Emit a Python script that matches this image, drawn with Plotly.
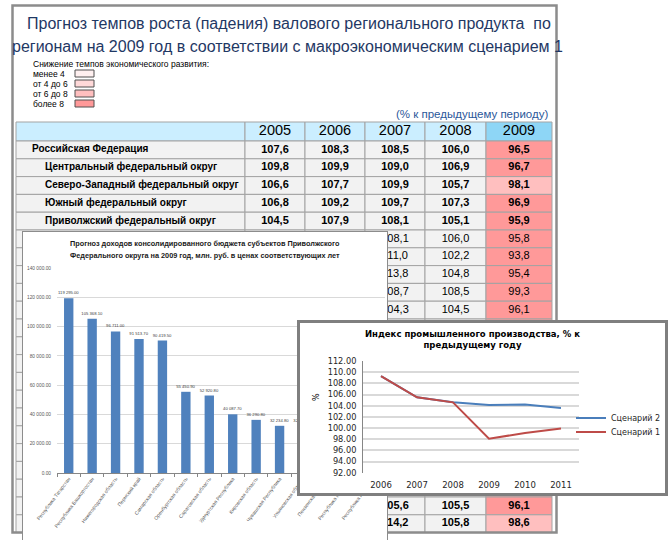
import plotly.graph_objects as go

# ---------------- data ----------------
table_title = ["Прогноз темпов роста (падения) валового регионального продукта  по",
               "регионам на 2009 год в соответствии с макроэкономическим сценарием 1"]
legend_title = "Снижение темпов экономического развития:"
legend_labels = ["менее 4", "от 4 до 6", "от 6 до 8", "более 8"]
legend_colors = ["#FFF0F0", "#FFD9D9", "#FFBFBF", "#FF9999"]
unit_note = "(% к предыдущему периоду)"

years = ["2005", "2006", "2007", "2008", "2009"]
regions = [
    "Российская Федерация",
    "Центральный федеральный округ",
    "Северо-Западный федеральный округ",
    "Южный федеральный округ",
    "Приволжский федеральный округ",
    "Республика Башкортостан", "Республика Марий Эл", "Республика Мордовия",
    "Республика Татарстан", "Удмуртская Республика", "Чувашская Республика",
    "Пермский край", "Кировская область", "Нижегородская область",
    "Оренбургская область", "Пензенская область", "Самарская область",
    "Саратовская область", "Ульяновская область",
    "Уральский федеральный округ",
    "Сибирский федеральный округ",
    "Дальневосточный федеральный округ",
]
bold_rows = [True] * 5 + [False] * 14 + [True] * 3
N = None
v2005 = [107.6, 109.8, 106.6, 106.8, 104.5] + [N] * 17
v2006 = [108.3, 109.9, 107.7, 109.2, 107.9] + [N] * 17
v2007 = [108.5, 109.0, 109.9, 109.7, 108.1, 108.1, 111.0, 113.8, 108.7, 104.3] + [N] * 10 + [105.6, 114.2]
v2008 = [106.0, 106.9, 105.7, 107.3, 105.1, 106.0, 102.2, 104.8, 108.5, 104.5] + [N] * 10 + [105.5, 105.8]
v2009 = [96.5, 96.7, 98.1, 96.9, 95.9, 95.8, 93.8, 95.4, 99.3, 96.1] + [N] * 10 + [96.1, 98.6]

bar_title = ["Прогноз доходов консолидированного бюджета субъектов Приволжского",
             "Федерального округа на 2009 год, млн. руб. в ценах соответствующих лет"]
bar_regions = ["Республика Татарстан", "Республика Башкортостан", "Нижегородская область",
               "Пермский край", "Самарская область", "Оренбургская область",
               "Саратовская область", "Удмуртская Республика", "Кировская область",
               "Чувашская Республика", "Ульяновская область", "Пензенская область",
               "Республика Мордовия", "Республика Марий Эл"]
bar_values = [119295.00, 105368.10, 96711.00, 91513.70, 90419.50, 55450.90,
              52920.80, 40087.70, 36290.80, 32234.80, 32050.00, 26500.00,
              21000.00, 14500.00]

line_title = "Индекс промышленного производства, % к<br>предыдущему году"
line_years = ["2006", "2007", "2008", "2009", "2010", "2011"]
scenario2 = [109.3, 105.5, 104.6, 104.1, 104.2, 103.6]
scenario1 = [109.3, 105.5, 104.6, 98.1, 99.1, 99.9]

# ---------------- layout helpers ----------------
W, H = 668, 540
def px(x): return x / W
def py(y): return 1 - y / H

NARROW = "Liberation Sans, Arial, sans-serif"
WIDE = "DejaVu Sans, Verdana, sans-serif"

col_edges = [16, 245, 305, 365, 425, 486, 552]
hdr_top, hdr_bot, row_h = 122, 141, 17.8
n_rows = len(regions)

def decline_color(prev, cur):
    if prev is None or cur is None:
        return legend_colors[3]
    d = prev - cur
    if d < 4:
        return legend_colors[0]
    if d < 6:
        return legend_colors[1]
    if d < 8:
        return legend_colors[2]
    return legend_colors[3]

shapes = []
border = dict(color="#A3A3A3", width=1)
hdr_fills = ["#CBEEFF"] * 5 + ["#8ED6F6"]
for c in range(6):
    shapes.append(dict(type="rect", xref="x", yref="y", layer="below",
                       x0=col_edges[c], x1=col_edges[c + 1], y0=hdr_top, y1=hdr_bot,
                       fillcolor=hdr_fills[c], line=border))
for r in range(n_rows):
    y0 = hdr_bot + r * row_h
    for c in range(6):
        fill = decline_color(v2008[r], v2009[r]) if c == 5 else "#F2F2F2"
        shapes.append(dict(type="rect", xref="x", yref="y", layer="below",
                           x0=col_edges[c], x1=col_edges[c + 1], y0=y0, y1=y0 + row_h,
                           fillcolor=fill, line=border))
# outer frame of the sheet
shapes.append(dict(type="rect", xref="x", yref="y", layer="below",
                   x0=12.5, x1=556.5, y0=5.5, y1=532.5,
                   line=dict(color="#8C8C8C", width=2.5)))
# colour legend boxes
leg_y = [73.5 + 10 * i for i in range(len(legend_colors))]
for yc, col in zip(leg_y, legend_colors):
    shapes.append(dict(type="rect", xref="x", yref="y", layer="below",
                       x0=75, x1=94, y0=yc - 3.5, y1=yc + 3.5,
                       fillcolor=col, line=dict(color="#505050", width=1)))

traces = []
common = dict(mode="text", hoverinfo="skip", showlegend=False)
col_centers = [(col_edges[i] + col_edges[i + 1]) / 2 for i in range(1, 6)]
traces.append(go.Scatter(x=col_centers, y=[(hdr_top + hdr_bot) / 2] * 5, text=years,
                         textfont=dict(family=NARROW, size=14.5, color="#000000"),
                         xaxis="x", yaxis="y", **common))
row_centers = [hdr_bot + (r + 0.5) * row_h for r in range(n_rows)]
traces.append(go.Scatter(
    x=[32 if r == 0 else 45 for r in range(n_rows)], y=row_centers,
    text=[("<b>%s</b>" % n) if b else n for n, b in zip(regions, bold_rows)],
    textposition="middle right",
    textfont=dict(family=NARROW, size=10, color="#000000"),
    xaxis="x", yaxis="y", **common))
for cx, vals in zip(col_centers, [v2005, v2006, v2007, v2008, v2009]):
    xs, ys, ts = [], [], []
    for r, v in enumerate(vals):
        if v is None:
            continue
        s = ("%.1f" % v).replace(".", ",")
        xs.append(cx)
        ys.append(row_centers[r])
        ts.append("<b>%s</b>" % s if bold_rows[r] else s)
    traces.append(go.Scatter(x=xs, y=ys, text=ts,
                             textfont=dict(family=NARROW, size=11, color="#000000"),
                             xaxis="x", yaxis="y", **common))

# bar frame (subplot 2)
traces.append(go.Scatter(x=[0.5], y=[0.5], mode="markers", marker=dict(opacity=0),
                         hoverinfo="skip", showlegend=False, xaxis="x2", yaxis="y2"))
# bar chart (subplot 3)
traces.append(go.Bar(x=bar_regions, y=bar_values, marker=dict(color="#4F81BD", line=dict(width=0)),
                     texttemplate="%{y:,.2f}", textposition="outside", textangle=0,
                     constraintext="none", cliponaxis=False,
                     textfont=dict(family=NARROW, size=4.2, color="#404040"),
                     hoverinfo="skip", showlegend=False, xaxis="x3", yaxis="y3"))
# line frame (subplot 4)
traces.append(go.Scatter(x=[0.5], y=[0.5], mode="markers", marker=dict(opacity=0),
                         hoverinfo="skip", showlegend=False, xaxis="x4", yaxis="y4"))
# line chart (subplot 5)
traces.append(go.Scatter(x=line_years, y=scenario2, mode="lines", name="Сценарий 2",
                         line=dict(color="#4A7EBB", width=2), xaxis="x5", yaxis="y5",
                         legend="legend", hoverinfo="skip"))
traces.append(go.Scatter(x=line_years, y=scenario1, mode="lines", name="Сценарий 1",
                         line=dict(color="#BE4B48", width=2), xaxis="x5", yaxis="y5",
                         legend="legend2", hoverinfo="skip"))

fig = go.Figure(traces)

hidden = dict(visible=True, showticklabels=False, showgrid=False, zeroline=False,
              ticks="", fixedrange=True)
annotations = [
    dict(text=table_title[0], x=289, y=23, xref="x", yref="y", showarrow=False,
         font=dict(family=NARROW, size=16, color="#1F3864")),
    dict(text=table_title[1], x=287, y=46, xref="x", yref="y", showarrow=False,
         font=dict(family=NARROW, size=16, color="#1F3864")),
    dict(text=legend_title, x=31, y=64, xref="x", yref="y", showarrow=False,
         xanchor="left", font=dict(family=NARROW, size=8.5, color="#000000")),
    dict(text=unit_note, x=550, y=114, xref="x", yref="y", showarrow=False,
         xanchor="right", font=dict(family=NARROW, size=11.5, color="#2B579A")),
    dict(text="<b>%s</b>" % bar_title[0], x=205, y=243.5,
         xref="x", yref="y", showarrow=False,
         font=dict(family=NARROW, size=7.3, color="#1A1A1A")),
    dict(text="<b>%s</b>" % bar_title[1], x=205, y=255.5,
         xref="x", yref="y", showarrow=False,
         font=dict(family=NARROW, size=7.3, color="#1A1A1A")),
    dict(text="<b>" + line_title.replace("<br>", "</b><br><b>") + "</b>", x=472, y=339,
         xref="x", yref="y", showarrow=False,
         font=dict(family=WIDE, size=8.5, color="#000000")),
    dict(text="%", x=316, y=397, xref="x", yref="y", showarrow=False, textangle=-90,
         font=dict(family=WIDE, size=8, color="#000000")),
]
for yc, lab in zip(leg_y, legend_labels):
    annotations.append(dict(text=lab, x=31, y=yc, xref="x", yref="y",
                            showarrow=False, xanchor="left",
                            font=dict(family=NARROW, size=8.5, color="#000000")))

fig.update_layout(
    width=W, height=H, margin=dict(l=0, r=0, t=0, b=0, autoexpand=False),
    paper_bgcolor="white", plot_bgcolor="white",
    separators=". ",
    bargap=0.6,
    shapes=shapes, annotations=annotations,
    xaxis=dict(domain=[0, 1], range=[0, W], visible=False, fixedrange=True),
    yaxis=dict(domain=[0, 1], range=[H, 0], visible=False, fixedrange=True),
    xaxis2=dict(domain=[px(23), px(387)], range=[0, 1], anchor="y2", side="top",
                showline=True, linecolor="#8C8C8C", linewidth=1.3, mirror=False, **hidden),
    yaxis2=dict(domain=[0, py(231.5)], range=[0, 1], anchor="x2",
                showline=True, linecolor="#8C8C8C", linewidth=1.3, mirror=True, **hidden),
    xaxis3=dict(domain=[px(57), px(385)], anchor="y3", type="category",
                tickangle=-53, tickfont=dict(family=NARROW, size=5, color="#595959"),
                showline=True, linecolor="#868686", linewidth=1,
                ticks="outside", tickson="boundaries", ticklen=3, tickcolor="#868686",
                showgrid=False, fixedrange=True, automargin=False),
    yaxis3=dict(domain=[py(473), py(268)], anchor="x3", range=[0, 140000], dtick=20000,
                tickformat=",.2f", tickfont=dict(family=NARROW, size=4.8, color="#595959"),
                gridcolor="#D9D9D9", gridwidth=1, zeroline=False, showline=False,
                ticklabelstandoff=5, fixedrange=True, automargin=False),
    xaxis4=dict(domain=[px(300), px(665)], range=[0, 1], anchor="y4",
                showline=True, linecolor="#7F7F7F", linewidth=2.5, mirror=True, **hidden),
    yaxis4=dict(domain=[py(493), py(323)], range=[0, 1], anchor="x4",
                showline=True, linecolor="#7F7F7F", linewidth=2.5, mirror=True, **hidden),
    xaxis5=dict(domain=[px(363), px(579)], anchor="y5", type="category",
                range=[-0.5, len(line_years) - 0.5],
                tickfont=dict(family=WIDE, size=8.5, color="#262626"),
                showgrid=False, showline=False, ticks="", ticklabelstandoff=6,
                fixedrange=True, automargin=False),
    yaxis5=dict(domain=[py(472.7), py(361)], anchor="x5", range=[92, 112], dtick=2,
                tickformat=".2f", tickfont=dict(family=WIDE, size=8.2, color="#262626"),
                gridcolor="#D9D9D9", gridwidth=1.5, zeroline=False,
                showline=True, linecolor="#868686", linewidth=1,
                ticklabelstandoff=4, fixedrange=True, automargin=False),
    legend=dict(x=px(571), y=py(418), xanchor="left", yanchor="middle",
                font=dict(family=WIDE, size=8, color="#262626"),
                bgcolor="rgba(0,0,0,0)", borderwidth=0),
    legend2=dict(x=px(571), y=py(432), xanchor="left", yanchor="middle",
                 font=dict(family=WIDE, size=8, color="#262626"),
                 bgcolor="rgba(0,0,0,0)", borderwidth=0),
)

fig.write_html("out.html", config={"displayModeBar": False},
               post_script="document.body.style.margin='0';document.body.style.overflow='hidden';")
